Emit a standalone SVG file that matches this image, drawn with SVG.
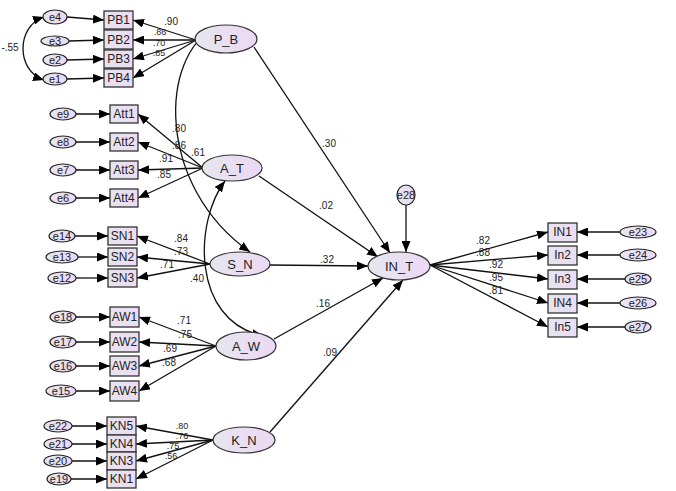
<svg xmlns="http://www.w3.org/2000/svg" width="676" height="491" viewBox="0 0 676 491">
<defs>
<linearGradient id="gl" x1="0" y1="0" x2="1" y2="0">
<stop offset="0" stop-color="#e6e6ee"/><stop offset="1" stop-color="#ecd8f4"/>
</linearGradient>
<linearGradient id="gb" x1="0" y1="0" x2="1" y2="0">
<stop offset="0" stop-color="#e6e4ee"/><stop offset="1" stop-color="#ecdcf4"/>
</linearGradient>
<marker id="ah" markerUnits="userSpaceOnUse" markerWidth="11" markerHeight="9" refX="11" refY="4.5" orient="auto-start-reverse">
<path d="M0,0 L11,4.5 L0,9 z" fill="#000"/>
</marker>
<style>
.lat{fill:url(#gl);stroke:#333;stroke-width:1.2}
.err{fill:url(#gl);stroke:#222;stroke-width:1.2}
.box{fill:url(#gb);stroke:#333;stroke-width:1.3}
.t{font-family:"Liberation Sans",Arial,sans-serif;font-size:12px;fill:#222;text-anchor:middle;dominant-baseline:central}
.tl{font-family:"Liberation Sans",Arial,sans-serif;font-size:13px;fill:#222;text-anchor:middle;dominant-baseline:central}
.te{font-family:"Liberation Sans",Arial,sans-serif;font-size:11px;fill:#222;text-anchor:middle;dominant-baseline:central}
.lab{font-family:"Liberation Sans",Arial,sans-serif;font-size:10px;fill:#222;text-anchor:middle;dominant-baseline:central}
.sm{font-size:9px}
.c line,.c path{stroke:#111;stroke-width:1.3;fill:none;marker-end:url(#ah)}
.c .dbl{marker-start:url(#ah)}
</style>
</defs>
<rect width="676" height="491" fill="#fff"/>

<g class="c" id="connectors">
<line x1="67" y1="17" x2="104" y2="20"/>
<line x1="69" y1="41" x2="104" y2="40"/>
<line x1="67" y1="60" x2="104" y2="59"/>
<line x1="67" y1="79" x2="104" y2="78"/>
<path class="dbl" d="M44,17 C16,26 16,71 44,80"/>
<line x1="196" y1="40" x2="133" y2="20"/>
<line x1="196" y1="40" x2="133" y2="40"/>
<line x1="196" y1="40" x2="133" y2="59"/>
<line x1="196" y1="40" x2="133" y2="78"/>
<line x1="76" y1="114" x2="110" y2="114"/>
<line x1="76" y1="142" x2="110" y2="142"/>
<line x1="76" y1="170" x2="110" y2="170"/>
<line x1="76" y1="198" x2="110" y2="198"/>
<line x1="203" y1="168" x2="138" y2="114"/>
<line x1="203" y1="168" x2="138" y2="142"/>
<line x1="203" y1="168" x2="138" y2="170"/>
<line x1="203" y1="168" x2="138" y2="198"/>
<line x1="75" y1="236" x2="108" y2="236"/>
<line x1="78" y1="257" x2="108" y2="257"/>
<line x1="76" y1="278" x2="108" y2="278"/>
<line x1="210" y1="264" x2="137" y2="236"/>
<line x1="210" y1="264" x2="137" y2="257"/>
<line x1="210" y1="264" x2="137" y2="278"/>
<line x1="76" y1="317" x2="110" y2="317"/>
<line x1="76" y1="342" x2="110" y2="342"/>
<line x1="76" y1="366" x2="110" y2="366"/>
<line x1="76" y1="391" x2="110" y2="391"/>
<line x1="216" y1="346" x2="139" y2="317"/>
<line x1="216" y1="346" x2="139" y2="342"/>
<line x1="216" y1="346" x2="139" y2="366"/>
<line x1="216" y1="346" x2="139" y2="391"/>
<line x1="72" y1="426" x2="107" y2="426"/>
<line x1="72" y1="444" x2="107" y2="444"/>
<line x1="72" y1="461" x2="107" y2="461"/>
<line x1="71" y1="479" x2="107" y2="479"/>
<line x1="213" y1="440" x2="136" y2="426"/>
<line x1="213" y1="440" x2="136" y2="444"/>
<line x1="213" y1="440" x2="136" y2="461"/>
<line x1="213" y1="440" x2="136" y2="479"/>
<path class="dbl" d="M250,252 C155,185 160,55 215,28"/>
<path class="dbl" d="M225,181 C195,220 190,320 263,336"/>
<line x1="254" y1="47" x2="390" y2="253"/>
<line x1="259" y1="176" x2="378" y2="257"/>
<line x1="270" y1="265" x2="368" y2="266"/>
<line x1="274" y1="339" x2="383" y2="278"/>
<line x1="270" y1="432" x2="403" y2="280"/>
<line x1="406" y1="205" x2="406" y2="252"/>
<line x1="430" y1="265" x2="548" y2="232"/>
<line x1="430" y1="265" x2="548" y2="255"/>
<line x1="430" y1="265" x2="548" y2="279"/>
<line x1="430" y1="265" x2="548" y2="303"/>
<line x1="430" y1="265" x2="548" y2="327"/>
<line x1="620" y1="232" x2="577" y2="232"/>
<line x1="620" y1="255" x2="577" y2="255"/>
<line x1="625" y1="279" x2="577" y2="279"/>
<line x1="620" y1="303" x2="577" y2="303"/>
<line x1="625" y1="327" x2="577" y2="327"/>
</g>

<g id="labels">
<text class="lab" x="10" y="47">-.55</text>
<text class="lab" x="171" y="21">.90</text>
<text class="lab sm" x="160" y="32">.86</text>
<text class="lab sm" x="159" y="42.5">.70</text>
<text class="lab sm" x="159" y="53">.85</text>
<text class="lab" x="179" y="128">.80</text>
<text class="lab" x="179" y="145">.86</text>
<text class="lab" x="198" y="152">.61</text>
<text class="lab" x="166" y="158">.91</text>
<text class="lab" x="164" y="174">.85</text>
<text class="lab" x="181" y="238">.84</text>
<text class="lab" x="181" y="251">.73</text>
<text class="lab" x="167" y="264">.71</text>
<text class="lab" x="197" y="278">.40</text>
<text class="lab" x="184" y="320">.71</text>
<text class="lab" x="185" y="334">.75</text>
<text class="lab" x="170" y="348">.69</text>
<text class="lab" x="169" y="362">.68</text>
<text class="lab sm" x="182" y="426">.80</text>
<text class="lab sm" x="182" y="436">.76</text>
<text class="lab sm" x="173" y="446">.75</text>
<text class="lab sm" x="171" y="455.5">.56</text>
<text class="lab" x="329" y="143">.30</text>
<text class="lab" x="326" y="205">.02</text>
<text class="lab" x="327" y="259">.32</text>
<text class="lab" x="323" y="303">.16</text>
<text class="lab" x="330" y="352">.09</text>
<text class="lab" x="483" y="240">.82</text>
<text class="lab" x="483" y="252">.88</text>
<text class="lab" x="496" y="264">.92</text>
<text class="lab" x="496" y="277">.95</text>
<text class="lab" x="496" y="290">.81</text>
</g>

<g id="e4"><ellipse class="err" cx="55" cy="17" rx="12" ry="7"/><text class="te" x="55" y="17">e4</text></g>
<g id="e3"><ellipse class="err" cx="55" cy="41" rx="14" ry="5"/><text class="te" x="55" y="41">e3</text></g>
<g id="e2"><ellipse class="err" cx="55" cy="60" rx="12" ry="6"/><text class="te" x="55" y="60">e2</text></g>
<g id="e1"><ellipse class="err" cx="55" cy="79" rx="12" ry="6"/><text class="te" x="55" y="79">e1</text></g>
<g id="PB1"><rect class="box" x="104" y="11" width="29" height="18"/><text class="t" x="118.5" y="20">PB1</text></g>
<g id="PB2"><rect class="box" x="104" y="30" width="29" height="19"/><text class="t" x="118.5" y="40">PB2</text></g>
<g id="PB3"><rect class="box" x="104" y="50" width="29" height="18"/><text class="t" x="118.5" y="59">PB3</text></g>
<g id="PB4"><rect class="box" x="104" y="69" width="29" height="18"/><text class="t" x="118.5" y="78">PB4</text></g>
<g id="P_B"><ellipse class="lat" cx="226" cy="39" rx="31" ry="14"/><text class="tl" x="226" y="39">P_B</text></g>

<g id="e9"><ellipse class="err" cx="63" cy="114" rx="13" ry="6"/><text class="te" x="63" y="114">e9</text></g>
<g id="e8"><ellipse class="err" cx="63" cy="142" rx="13" ry="6"/><text class="te" x="63" y="142">e8</text></g>
<g id="e7"><ellipse class="err" cx="63" cy="170" rx="13" ry="6"/><text class="te" x="63" y="170">e7</text></g>
<g id="e6"><ellipse class="err" cx="63" cy="198" rx="13" ry="6"/><text class="te" x="63" y="198">e6</text></g>
<g id="Att1"><rect class="box" x="110" y="105" width="28" height="18"/><text class="t" x="124" y="114">Att1</text></g>
<g id="Att2"><rect class="box" x="110" y="133" width="28" height="18"/><text class="t" x="124" y="142">Att2</text></g>
<g id="Att3"><rect class="box" x="110" y="161" width="28" height="18"/><text class="t" x="124" y="170">Att3</text></g>
<g id="Att4"><rect class="box" x="110" y="189" width="28" height="18"/><text class="t" x="124" y="198">Att4</text></g>
<g id="A_T"><ellipse class="lat" cx="232" cy="168" rx="30" ry="13"/><text class="tl" x="232" y="168">A_T</text></g>

<g id="e14"><ellipse class="err" cx="62" cy="236" rx="13" ry="6"/><text class="te" x="62" y="236">e14</text></g>
<g id="e13"><ellipse class="err" cx="62" cy="257" rx="16" ry="6"/><text class="te" x="62" y="257">e13</text></g>
<g id="e12"><ellipse class="err" cx="62" cy="278" rx="14" ry="6"/><text class="te" x="62" y="278">e12</text></g>
<g id="SN1"><rect class="box" x="108" y="227" width="29" height="18"/><text class="t" x="122.5" y="236">SN1</text></g>
<g id="SN2"><rect class="box" x="108" y="248" width="29" height="18"/><text class="t" x="122.5" y="257">SN2</text></g>
<g id="SN3"><rect class="box" x="108" y="269" width="29" height="18"/><text class="t" x="122.5" y="278">SN3</text></g>
<g id="S_N"><ellipse class="lat" cx="240" cy="264" rx="30" ry="12"/><text class="tl" x="240" y="264">S_N</text></g>

<g id="e18"><ellipse class="err" cx="63" cy="317" rx="13" ry="6"/><text class="te" x="63" y="317">e18</text></g>
<g id="e17"><ellipse class="err" cx="63" cy="342" rx="13" ry="6"/><text class="te" x="63" y="342">e17</text></g>
<g id="e16"><ellipse class="err" cx="63" cy="366" rx="13" ry="6"/><text class="te" x="63" y="366">e16</text></g>
<g id="e15"><ellipse class="err" cx="61" cy="391" rx="15" ry="6"/><text class="te" x="61" y="391">e15</text></g>
<g id="AW1"><rect class="box" x="110" y="307" width="29" height="20"/><text class="t" x="124.5" y="317">AW1</text></g>
<g id="AW2"><rect class="box" x="110" y="332" width="29" height="20"/><text class="t" x="124.5" y="342">AW2</text></g>
<g id="AW3"><rect class="box" x="110" y="356" width="29" height="20"/><text class="t" x="124.5" y="366">AW3</text></g>
<g id="AW4"><rect class="box" x="110" y="381" width="29" height="20"/><text class="t" x="124.5" y="391">AW4</text></g>
<g id="A_W"><ellipse class="lat" cx="246" cy="346" rx="30" ry="14"/><text class="tl" x="246" y="346">A_W</text></g>

<g id="e22"><ellipse class="err" cx="58" cy="426" rx="14" ry="6"/><text class="te" x="58" y="426">e22</text></g>
<g id="e21"><ellipse class="err" cx="58" cy="444" rx="14" ry="6"/><text class="te" x="58" y="444">e21</text></g>
<g id="e20"><ellipse class="err" cx="58" cy="461" rx="14" ry="6"/><text class="te" x="58" y="461">e20</text></g>
<g id="e19"><ellipse class="err" cx="59" cy="479" rx="12" ry="6"/><text class="te" x="59" y="479">e19</text></g>
<g id="KN5"><rect class="box" x="107" y="417" width="29" height="18"/><text class="t" x="121.5" y="426">KN5</text></g>
<g id="KN4"><rect class="box" x="107" y="435" width="29" height="17"/><text class="t" x="121.5" y="444">KN4</text></g>
<g id="KN3"><rect class="box" x="107" y="452" width="29" height="18"/><text class="t" x="121.5" y="461">KN3</text></g>
<g id="KN1"><rect class="box" x="107" y="470" width="29" height="18"/><text class="t" x="121.5" y="479">KN1</text></g>
<g id="K_N"><ellipse class="lat" cx="244" cy="440" rx="31" ry="13"/><text class="tl" x="244" y="440">K_N</text></g>

<g id="e28"><ellipse class="err" cx="406" cy="195" rx="9" ry="10"/><text class="te" x="406" y="195">e28</text></g>
<g id="IN_T"><ellipse class="lat" cx="399" cy="266" rx="31" ry="14"/><text class="tl" x="399" y="266">IN_T</text></g>
<g id="IN1"><rect class="box" x="548" y="223" width="29" height="19"/><text class="t" x="562.5" y="232">IN1</text></g>
<g id="In2"><rect class="box" x="548" y="246" width="29" height="19"/><text class="t" x="562.5" y="255">In2</text></g>
<g id="In3"><rect class="box" x="548" y="270" width="29" height="19"/><text class="t" x="562.5" y="279">In3</text></g>
<g id="IN4"><rect class="box" x="548" y="294" width="29" height="19"/><text class="t" x="562.5" y="303">IN4</text></g>
<g id="In5"><rect class="box" x="548" y="318" width="29" height="19"/><text class="t" x="562.5" y="327">In5</text></g>
<g id="e23"><ellipse class="err" cx="638" cy="232" rx="18" ry="6"/><text class="te" x="638" y="232">e23</text></g>
<g id="e24"><ellipse class="err" cx="638" cy="255" rx="18" ry="6"/><text class="te" x="638" y="255">e24</text></g>
<g id="e25"><ellipse class="err" cx="638" cy="279" rx="13" ry="6"/><text class="te" x="638" y="279">e25</text></g>
<g id="e26"><ellipse class="err" cx="638" cy="303" rx="18" ry="6"/><text class="te" x="638" y="303">e26</text></g>
<g id="e27"><ellipse class="err" cx="638" cy="327" rx="13" ry="6"/><text class="te" x="638" y="327">e27</text></g>
</svg>
